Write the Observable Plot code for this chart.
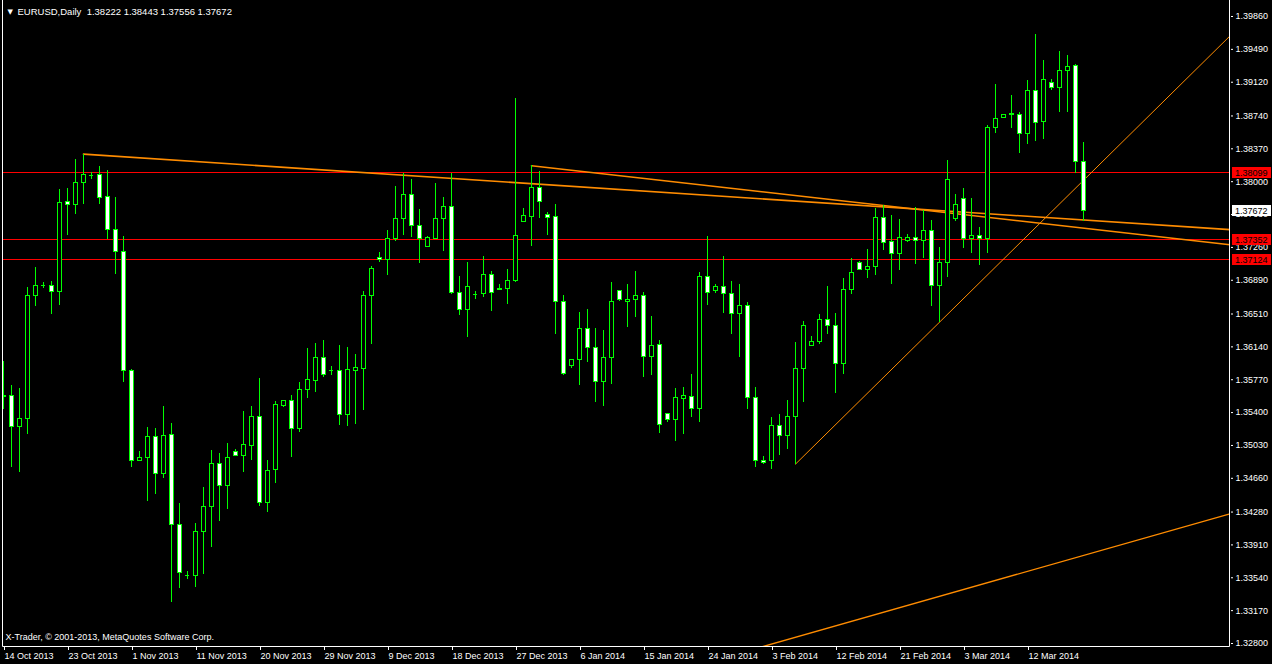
<!DOCTYPE html>
<html><head><meta charset="utf-8">
<script src="https://cdn.jsdelivr.net/npm/d3@7"></script>
<script src="https://cdn.jsdelivr.net/npm/@observablehq/plot@0.6"></script>
<style>
html,body{margin:0;padding:0;background:#000;overflow:hidden}
#chart svg{display:block}
</style></head><body><div id="chart"></div>
<script>
// ---------- data ----------
const symbol = "EURUSD,Daily";
const copyright = "X-Trader, \u00a9 2001-2013, MetaQuotes Software Corp.";

const open = [1.3559,1.3559,1.3524,1.3533,1.3671,1.3683,1.3683,1.3676,1.3777,1.3774,
1.3798,1.3807,1.3808,1.3783,1.3746,1.3721,1.3587,1.3486,1.3489,1.3512,
1.3471,1.3515,1.3413,1.3357,1.3356,1.3405,1.3434,1.3482,1.3457,1.3496,
1.3491,1.3502,1.3535,1.3438,1.3475,1.3547,1.3553,1.3521,1.3565,1.3576,
1.3602,1.3587,1.3587,1.3537,1.3587,1.3589,1.3671,1.3714,1.3712,1.3735,
1.3758,1.3785,1.3750,1.3727,1.3736,1.3758,1.3771,1.3675,1.3655,1.3673,
1.3673,1.3695,1.3678,1.3679,1.3688,1.3755,1.3760,1.3793,1.3762,1.3760,
1.3665,1.3593,1.3599,1.3634,1.3613,1.3575,1.3601,1.3677,1.3665,1.3667,
1.3671,1.3603,1.3616,1.3538,1.3532,1.3555,1.3558,1.3544,1.3693,1.3677,
1.3681,1.3673,1.3651,1.3660,1.3556,1.3486,1.3486,1.3525,1.3514,1.3535,
1.3589,1.3615,1.3620,1.3644,1.3637,1.3595,1.3678,1.3709,1.3700,1.3704,
1.3759,1.3732,1.3719,1.3733,1.3737,1.3733,1.3745,1.3682,1.3708,1.3758,
1.3781,1.3735,1.3739,1.3735,1.3860,1.3872,1.3875,1.3875,1.3854,1.3902,
1.3867,1.3911,1.3906,1.3925,1.3930,1.38222];
const high = [1.3597,1.3570,1.3567,1.3681,1.3703,1.3686,1.3688,1.3791,1.3792,1.3825,
1.3831,1.3810,1.3817,1.3813,1.3782,1.3738,1.3589,1.3496,1.3523,1.3522,
1.3547,1.3528,1.3438,1.3361,1.3415,1.3456,1.3497,1.3494,1.3505,1.3498,
1.3541,1.3547,1.3578,1.3486,1.3552,1.3553,1.3559,1.3574,1.3612,1.3618,
1.3621,1.3592,1.3616,1.3613,1.3605,1.3676,1.3705,1.3720,1.3745,1.3795,
1.3809,1.3802,1.3769,1.3738,1.3798,1.3782,1.3809,1.3693,1.3709,1.3676,
1.3716,1.3699,1.3684,1.3701,1.3894,1.3770,1.3818,1.3811,1.3765,1.3774,
1.3672,1.3599,1.3653,1.3656,1.3635,1.3632,1.3686,1.3678,1.3684,1.3699,
1.3675,1.3648,1.3621,1.3539,1.3567,1.3568,1.3583,1.3698,1.3738,1.3684,
1.3716,1.3688,1.3684,1.3664,1.3568,1.3491,1.3534,1.3538,1.3554,1.3619,
1.3643,1.3626,1.3650,1.3682,1.3652,1.3691,1.3714,1.3710,1.3724,1.3770,
1.3773,1.3762,1.3757,1.3740,1.3771,1.3768,1.3756,1.3726,1.3824,1.3786,
1.3792,1.3781,1.3748,1.3863,1.3909,1.3876,1.3897,1.3878,1.3914,1.3966,
1.3936,1.3915,1.3947,1.3942,1.3932,1.38443];
const low = [1.3544,1.3478,1.3472,1.3515,1.3659,1.3680,1.3650,1.3661,1.3739,1.3763,
1.3774,1.3802,1.3774,1.3735,1.3695,1.3574,1.3478,1.3485,1.3440,1.3448,
1.3466,1.3326,1.3342,1.3352,1.3343,1.3358,1.3388,1.3417,1.3431,1.3491,
1.3473,1.3486,1.3434,1.3427,1.3460,1.3546,1.3489,1.3518,1.3556,1.3563,
1.3580,1.3582,1.3525,1.3524,1.3527,1.3542,1.3617,1.3709,1.3694,1.3733,
1.3739,1.3737,1.3708,1.3726,1.3735,1.3721,1.3673,1.3649,1.3624,1.3667,
1.3670,1.3654,1.3677,1.3662,1.3686,1.3754,1.3727,1.3759,1.3739,1.3628,
1.3582,1.3590,1.3570,1.3596,1.3551,1.3547,1.3572,1.3665,1.3636,1.3647,
1.3580,1.3582,1.3516,1.3529,1.3507,1.3515,1.3534,1.3529,1.3661,1.3674,
1.3652,1.3628,1.3602,1.3543,1.3478,1.3481,1.3476,1.3492,1.3498,1.3482,
1.3551,1.3614,1.3617,1.3628,1.3561,1.3583,1.3673,1.3700,1.3691,1.3694,
1.3722,1.3684,1.3700,1.3732,1.3707,1.3714,1.3660,1.3642,1.3692,1.3755,
1.3725,1.3719,1.3706,1.3719,1.3854,1.3871,1.3860,1.3832,1.3842,1.3845,
1.3847,1.3903,1.3878,1.3878,1.3809,1.37556];
const close = [1.3557,1.3524,1.3533,1.3671,1.3683,1.3683,1.3676,1.3776,1.3774,1.3799,
1.3807,1.3807,1.3782,1.3746,1.3721,1.3587,1.3486,1.3489,1.3512,1.3471,
1.3514,1.3413,1.3359,1.3357,1.3406,1.3434,1.3482,1.3457,1.3489,1.3491,
1.3503,1.3535,1.3438,1.3474,1.3548,1.3553,1.3521,1.3566,1.3577,1.3602,
1.3582,1.3587,1.3537,1.3588,1.3590,1.3671,1.3702,1.3712,1.3735,1.3758,
1.3785,1.3750,1.3735,1.3737,1.3758,1.3771,1.3675,1.3655,1.3681,1.3673,
1.3695,1.3675,1.3679,1.3688,1.3739,1.3761,1.3793,1.3777,1.3759,1.3664,
1.3583,1.3599,1.3634,1.3613,1.3575,1.3601,1.3664,1.3667,1.3667,1.3671,
1.3603,1.3615,1.3526,1.3532,1.3556,1.3559,1.3544,1.3693,1.3675,1.3681,
1.3673,1.3651,1.3660,1.3556,1.3486,1.3483,1.3525,1.3514,1.3535,1.3589,
1.3638,1.3620,1.3644,1.3637,1.3595,1.3678,1.3697,1.3700,1.3704,1.3759,
1.3731,1.3719,1.3737,1.3737,1.3733,1.3745,1.3682,1.3708,1.3802,1.3774,
1.3735,1.3739,1.3735,1.3860,1.3871,1.3875,1.3876,1.3854,1.3902,1.3866,
1.3914,1.3906,1.3925,1.3929,1.3822,1.37672];

const dateTickBars = [0,8,16,24,32,40,48,56,64,72,80,88,96,104,112,120,128];
const dateTickLabels = ["14 Oct 2013","23 Oct 2013","1 Nov 2013","11 Nov 2013","20 Nov 2013",
"29 Nov 2013","9 Dec 2013","18 Dec 2013","27 Dec 2013","6 Jan 2014","15 Jan 2014",
"24 Jan 2014","3 Feb 2014","12 Feb 2014","21 Feb 2014","3 Mar 2014","12 Mar 2014"];
const priceTicks = [1.3986,1.3949,1.3912,1.3874,1.3837,1.3800,1.3763,1.3726,1.3689,1.3651,
1.3614,1.3577,1.3540,1.3503,1.3466,1.3428,1.3391,1.3354,1.3317,1.3280];

const levelPrices = [1.38099, 1.37352, 1.37124];
// trend lines: [bar, price] anchors
const trendA = [[10, 1.3831], [153.3, 1.3746]];
const trendB = [[66, 1.3818], [153.3, 1.3729]];
const trendC = [[99, 1.3482], [153.3, 1.3964]];
const trendD = [[94.7, 1.3276], [153.3, 1.3426]];

// ---------- layout ----------
const W = 1272, H = 664;
const mL = 2, mR = 42, mT = 0, mB = 18;
const barStep = 8, firstBar = 3.0;
const GREEN = "#00ff00", ORANGE = "#ff8c00", RED = "#ff0000";
const FONT = "Liberation Sans, Arial, sans-serif";

const bars = open.map((o, i) => ({i, o, h: high[i], l: low[i], c: close[i]}));
const bodies = bars.filter(d => d.o !== d.c);
const dojis = bars.filter(d => d.o === d.c);
const last = bars[bars.length - 1];
const fmt = v => v.toFixed(5);
const titleText = symbol + "\u00a0\u00a0" + [last.o, last.h, last.l, last.c].map(fmt).join(" ");

const xDomain = [(mL - firstBar) / barStep, (W - mR - firstBar) / barStep];

const chart = Plot.plot({
  width: W, height: H,
  marginLeft: mL, marginRight: mR, marginTop: mT, marginBottom: mB,
  style: {background: "#000", color: "#fff", fontFamily: FONT, fontSize: "9px"},
  x: {type: "linear", domain: xDomain},
  y: {type: "linear", domain: [1.3280, 1.3986], range: [643, 16]},
  marks: [
    Plot.ruleY(levelPrices, {stroke: RED, strokeWidth: 1, shapeRendering: "crispEdges"}),
    Plot.line(trendA, {x: "0", y: "1", stroke: ORANGE, strokeWidth: 1.6, clip: true}),
    Plot.line(trendB, {x: "0", y: "1", stroke: ORANGE, strokeWidth: 1.6, clip: true}),
    Plot.line(trendC, {x: "0", y: "1", stroke: ORANGE, strokeWidth: 1, clip: true}),
    Plot.line(trendD, {x: "0", y: "1", stroke: ORANGE, strokeWidth: 1.4, clip: true}),
    Plot.ruleX(bars, {x: "i", y1: "l", y2: "h", stroke: GREEN, strokeWidth: 1,
      shapeRendering: "crispEdges", clip: true}),
    Plot.rect(bodies, {x1: d => d.i - 0.25, x2: d => d.i + 0.25, y1: "o", y2: "c",
      fill: d => d.c > d.o ? "#000" : "#fff", stroke: GREEN, strokeWidth: 1,
      shapeRendering: "crispEdges", clip: true}),
    Plot.ruleY(dojis, {y: "o", x1: d => d.i - 0.3, x2: d => d.i + 0.3, stroke: GREEN,
      strokeWidth: 1, shapeRendering: "crispEdges", clip: true}),
    Plot.axisY(priceTicks, {anchor: "right", tickSize: 2, tickPadding: 3, tickFormat: fmt,
      color: "#fff", fontSize: 9, fontFamily: FONT}),
    Plot.axisX(dateTickBars, {anchor: "bottom", tickSize: 4, tickPadding: 2,
      tickFormat: d => dateTickLabels[dateTickBars.indexOf(d)], textAnchor: "start", dx: 1,
      color: "#fff", fontSize: 9, fontFamily: FONT}),
    Plot.text([titleText], {frameAnchor: "top-left", dx: 15, dy: 11, lineAnchor: "middle",
      textAnchor: "start", fill: "#fff", fontSize: 9.5, fontFamily: FONT}),
    Plot.text(["\u25BC"], {frameAnchor: "top-left", dx: 5, dy: 11, lineAnchor: "middle",
      textAnchor: "start", fill: "#fff", fontSize: 7, fontFamily: "DejaVu Sans"}),
    Plot.text([copyright], {frameAnchor: "bottom-left", dx: 3, dy: -9, lineAnchor: "middle",
      textAnchor: "start", fill: "#fff", fontSize: 9, fontFamily: FONT})
  ]
});
document.getElementById("chart").appendChild(chart);

// ---------- chart frame and price labels ----------
const svg = d3.select(chart);
const yS = chart.scale("y");
const fx0 = mL + 0.5, fx1 = W - mR - 0.5, fy1 = H - mB + 0.5;
svg.append("path")
  .attr("d", `M${fx0},${mT}V${fy1}H${fx1}V${mT}`)
  .attr("fill", "none").attr("stroke", "#fff").attr("stroke-width", 1);

const tags = levelPrices.map(v => ({v, bg: RED, fg: "#000"}))
  .concat([{v: last.c, bg: "#fff", fg: "#000"}]);
const tagG = svg.append("g").attr("text-anchor", "start");
for (const t of tags) {
  const yy = Math.round(yS.apply(t.v));
  tagG.append("rect").attr("x", W - mR + 2).attr("y", yy - 5).attr("width", 39).attr("height", 11)
    .attr("fill", t.bg);
  tagG.append("text").attr("x", W - mR + 5).attr("y", yy + 0.5).attr("dy", "0.35em")
    .attr("text-anchor", "start")
    .attr("fill", t.fg).attr("font-size", 9).attr("font-family", FONT).text(fmt(t.v));
}
</script></body></html>
